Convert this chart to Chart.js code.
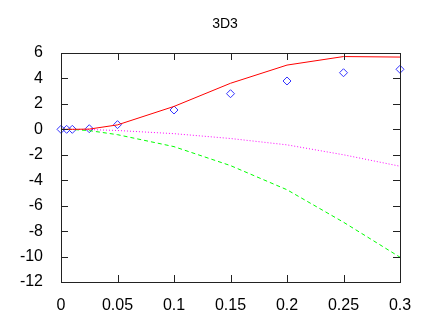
<!DOCTYPE html>
<html>
<head>
<meta charset="utf-8">
<script src="https://cdn.jsdelivr.net/npm/chart.js@4"></script>
<style>
  html, body { margin: 0; padding: 0; background: #fff; }
  #wrap { width: 429px; height: 317px; }
</style>
</head>
<body>
<div id="wrap"><canvas id="myChart" width="429" height="317"></canvas></div>
<script>
// datos
var xs = [0, 0.005, 0.01, 0.025, 0.05, 0.1, 0.15, 0.2, 0.25, 0.3]
var redLine = [0, 0, 0, 0.02, 0.35, 1.8, 3.62, 5.05, 5.72, 5.68]
var greenLine = [0, 0, -0.01, -0.1, -0.42, -1.36, -2.85, -4.75, -7.3, -10.05]
var magentaLine = [0, 0, 0, -0.02, -0.09, -0.34, -0.72, -1.22, -2.0, -2.9]
var bluePoints = [0, 0, 0, 0.05, 0.37, 1.52, 2.8, 3.8, 4.45, 4.72]
var xTicks = [0, 0.05, 0.1, 0.15, 0.2, 0.25, 0.3]
var xTickLabels = ['0', '0.05', '0.1', '0.15', '0.2', '0.25', '0.3']
var yTicks = [6, 4, 2, 0, -2, -4, -6, -8, -10, -12]
var title = '3D3'

function pts(ys) {
    return xs.map(function (x, i) { return { x: x, y: ys[i] } })
}

Chart.defaults.font.family = "'Liberation Sans', Arial, sans-serif";
Chart.defaults.font.size = 16;
Chart.defaults.color = '#000';

// marco y ticks hacia adentro (estilo gnuplot)
const boxPlugin = {
    id: 'box',
    afterDraw(chart) {
        const c = chart.ctx, a = chart.chartArea
        const sx = chart.scales.x, sy = chart.scales.y
        c.save()
        c.strokeStyle = '#222'
        c.lineWidth = 1
        c.beginPath()
        xTicks.forEach(function (v) {
            var px = Math.round(sx.getPixelForValue(v)) + 0.5
            c.moveTo(px, a.bottom); c.lineTo(px, a.bottom - 7)
            c.moveTo(px, a.top); c.lineTo(px, a.top + 7)
        })
        yTicks.forEach(function (v) {
            var py = Math.round(sy.getPixelForValue(v)) + 0.5
            c.moveTo(a.left, py); c.lineTo(a.left + 7, py)
            c.moveTo(a.right, py); c.lineTo(a.right - 7, py)
        })
        c.stroke()
        c.strokeRect(Math.round(a.left) + 0.5, Math.round(a.top) + 0.5,
            Math.round(a.right - a.left), Math.round(a.bottom - a.top))
        c.fillStyle = '#000'
        c.font = "14px 'Liberation Sans', Arial, sans-serif"
        c.textAlign = 'center'
        c.textBaseline = 'middle'
        c.fillText(title, 225, 24)
        c.restore()
    }
}

var ctx = document.getElementById('myChart')
var chart = new Chart(ctx, {
    type: 'scatter',
    data: {
        datasets: [{
            data: pts(redLine),
            showLine: true,
            borderColor: '#ff0000',
            borderWidth: 1,
            pointRadius: 0,
            tension: 0
        }, {
            data: pts(greenLine),
            showLine: true,
            borderColor: '#00ff00',
            borderWidth: 1,
            borderDash: [4, 3],
            pointRadius: 0
        }, {
            data: pts(magentaLine),
            showLine: true,
            borderColor: '#ff00ff',
            borderWidth: 1,
            borderDash: [1, 2],
            pointRadius: 0
        }, {
            data: pts(bluePoints),
            showLine: false,
            clip: false,
            pointStyle: 'rectRot',
            pointRadius: 4,
            borderColor: '#3333ff',
            backgroundColor: 'rgba(0,0,0,0)',
            borderWidth: 1
        }]
    },
    options: {
        responsive: false,
        animation: false,
        layout: { padding: { top: 53, right: 29, left: 0, bottom: 0 } },
        plugins: { legend: { display: false }, tooltip: { enabled: false }, title: { display: false } },
        scales: {
            x: {
                type: 'linear',
                min: 0,
                max: 0.3,
                grid: { display: false },
                border: { display: false },
                afterFit: function (s) { s.height = 35 },
                afterBuildTicks: function (s) { s.ticks = xTicks.map(function (v) { return { value: v } }) },
                ticks: {
                    padding: 6,
                    maxRotation: 0,
                    autoSkip: false,
                    callback: function (v) { return xTickLabels[xTicks.indexOf(v)] }
                }
            },
            y: {
                min: -12,
                max: 6,
                grid: { display: false },
                border: { display: false },
                afterFit: function (s) { s.width = 61 },
                afterBuildTicks: function (s) { s.ticks = yTicks.map(function (v) { return { value: v } }) },
                ticks: { padding: 10, autoSkip: false }
            }
        }
    },
    plugins: [boxPlugin]
});
</script>
</body>
</html>
